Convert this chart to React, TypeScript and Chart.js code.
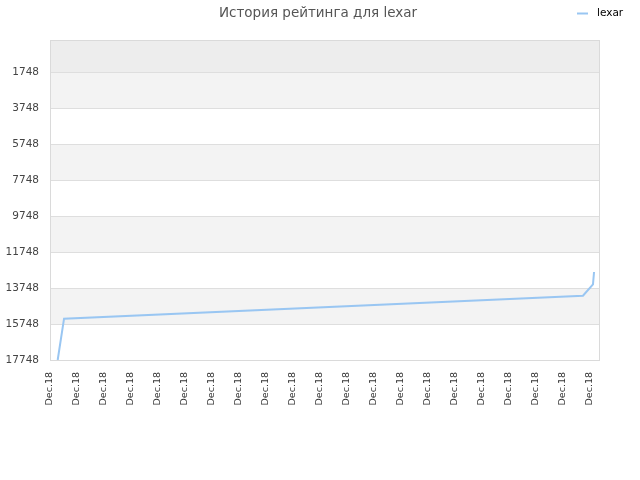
import React, { useEffect, useRef } from "react";
import { Chart, registerables } from "chart.js";

Chart.register(...registerables);

const TITLE = "История рейтинга для lexar";
const SERIES_NAME = "lexar";
// x positions in label-step units (0 = first "Dec.18" tick)
const pointX = [0.285, 0.52, 19.74, 20.11, 20.15];
const ratingValues = [17748, 15454, 14176, 13542, 12859];
const xTickLabels = Array.from({ length: 21 }, () => "Dec.18");
const yTickValues = [1748, 3748, 5748, 7748, 9748, 11748, 13748, 15748, 17748];

const FONT = "'DejaVu Sans', sans-serif";
const LINE_COLOR = "#99c6f2";

const decorPlugin = {
  id: "decor",
  beforeDraw(chart: any) {
    const { ctx, chartArea } = chart;
    const y = chart.scales.y;
    const { left, right, top, bottom } = chartArea;
    ctx.save();
    ctx.fillStyle = "#ffffff";
    ctx.fillRect(left, top, right - left, bottom - top);
    for (let i = yTickValues.length - 1; i > 0; i--) {
      const idxFromBottom = yTickValues.length - 1 - i;
      if (idxFromBottom % 2 === 1) {
        const y1 = y.getPixelForValue(yTickValues[i]);
        const y2 = y.getPixelForValue(yTickValues[i - 1]);
        ctx.fillStyle = "#f3f3f3";
        ctx.fillRect(left, y2, right - left, y1 - y2);
      }
    }
    const yTop = y.getPixelForValue(yTickValues[0]);
    ctx.fillStyle = "#ededed";
    ctx.fillRect(left, top, right - left, yTop - top);
    ctx.restore();
  },
  afterDraw(chart: any) {
    const { ctx, chartArea } = chart;
    const { left, right, top, bottom } = chartArea;
    ctx.save();
    ctx.strokeStyle = "#dadada";
    ctx.lineWidth = 1;
    ctx.strokeRect(left + 0.5, top + 0.5, right - left - 1, bottom - top);
    ctx.fillStyle = "#555555";
    ctx.font = `13.5px ${FONT}`;
    ctx.textAlign = "center";
    ctx.textBaseline = "middle";
    ctx.fillText(TITLE, 318, 13);
    const ds = chart.data.datasets[0];
    ctx.strokeStyle = ds.borderColor;
    ctx.lineWidth = 2;
    ctx.beginPath();
    ctx.moveTo(577, 13.5);
    ctx.lineTo(588, 13.5);
    ctx.stroke();
    ctx.fillStyle = "#000000";
    ctx.font = `10.5px ${FONT}`;
    ctx.textAlign = "left";
    ctx.fillText(ds.label, 597, 13);
    ctx.restore();
  },
};

export default function App() {
  const ref = useRef<HTMLCanvasElement | null>(null);
  useEffect(() => {
    if (!ref.current) return;
    const chart = new Chart(ref.current, {
      type: "line",
      data: {
        datasets: [
          {
            label: SERIES_NAME,
            data: pointX.map((x, i) => ({ x, y: ratingValues[i] })),
            borderColor: LINE_COLOR,
            backgroundColor: LINE_COLOR,
            borderWidth: 2,
            pointRadius: 0,
            tension: 0,
            fill: false,
          },
        ],
      },
      options: {
        animation: false,
        responsive: false,
        maintainAspectRatio: false,
        layout: { padding: { top: 40, right: 40, left: 0, bottom: 0 } },
        plugins: {
          legend: { display: false },
          title: { display: false },
          tooltip: { enabled: false },
        },
        scales: {
          x: {
            type: "linear",
            min: 0,
            max: 550 / 27,
            grid: { display: false, drawTicks: false },
            border: { display: false },
            afterBuildTicks: (s: any) => {
              s.ticks = xTickLabels.map((_, i) => ({ value: i }));
            },
            afterFit: (s: any) => {
              s.height = 120;
            },
            ticks: {
              autoSkip: false,
              minRotation: 90,
              maxRotation: 90,
              padding: 12,
              color: "#333333",
              font: { family: FONT, size: 9.5 },
              callback: (v: any) => xTickLabels[Math.round(Number(v))] ?? "",
            },
          },
          y: {
            type: "linear",
            reverse: true,
            min: -30,
            max: 17748,
            grid: { color: "#dedede", drawTicks: false },
            border: { display: false },
            afterBuildTicks: (s: any) => {
              s.ticks = yTickValues.map((v) => ({ value: v }));
            },
            afterFit: (s: any) => {
              s.width = 50;
            },
            ticks: {
              padding: 11,
              color: "#444444",
              font: { family: FONT, size: 10.5 },
              callback: (v: any) => String(v),
            },
          },
        },
      },
      plugins: [decorPlugin],
    });
    return () => chart.destroy();
  }, []);
  return (
    <div style={{ position: "fixed", left: 0, top: 0, width: 640, height: 480, background: "#fff" }}>
      <canvas ref={ref} width={640} height={480} style={{ width: 640, height: 480 }} />
    </div>
  );
}
